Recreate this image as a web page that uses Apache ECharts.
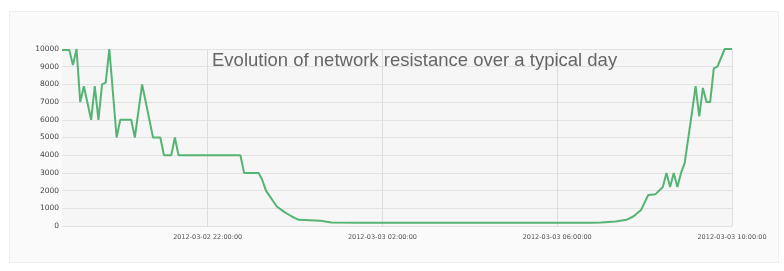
<!DOCTYPE html>
<html>
<head>
<meta charset="utf-8">
<script src="https://cdn.jsdelivr.net/npm/echarts@6/dist/echarts.min.js"></script>
<style>
  html, body { margin: 0; padding: 0; background: #fff; }
  #wrap { position: absolute; left: 9px; top: 11px; width: 768px; height: 250px;
          background: #fafafa; border: 1px solid #efefef; }
  #main { position: absolute; left: 0; top: 0; width: 784px; height: 271px; }
</style>
</head>
<body>
<div id="wrap"></div>
<div id="main"></div>
<script>
// time labels shown on the x axis
var labelTimes = ['2012-03-02 22:00:00', '2012-03-03 02:00:00', '2012-03-03 06:00:00', '2012-03-03 10:00:00'];
// y axis ticks
var yTicks = [0, 1000, 2000, 3000, 4000, 5000, 6000, 7000, 8000, 9000, 10000];

// vertices of the resistance curve
var pointTimes = [
  '18:40', '18:50', '18:55', '19:00', '19:05', '19:10', '19:20', '19:25', '19:30', '19:35',
  '19:40', '19:45', '19:55', '20:00', '20:15', '20:20', '20:30', '20:45', '20:55', '21:00',
  '21:10', '21:15', '21:20', '22:45', '22:50', '23:10', '23:15', '23:20', '23:25', '23:30',
  '23:35', '23:45', '23:55', '00:00', '00:05', '00:35', '00:50', '01:30', '06:45', '07:00',
  '07:20', '07:35', '07:45', '07:55', '08:05', '08:15', '08:25', '08:30', '08:35', '08:40',
  '08:45', '08:50', '08:55', '09:05', '09:10', '09:15', '09:20', '09:25', '09:30', '09:35',
  '09:40', '09:50', '10:00'
];
var pointValues = [
  9950, 9950, 9100, 10000, 7000, 7900, 6000, 7900, 6000, 8000,
  8100, 10000, 5000, 6000, 6000, 5000, 8000, 5000, 5000, 4000,
  4000, 5000, 4000, 4000, 3000, 3000, 2600, 2000, 1700, 1400,
  1100, 800, 550, 450, 350, 300, 200, 180, 180, 200,
  260, 350, 550, 900, 1750, 1800, 2200, 3000, 2200, 3000,
  2200, 3000, 3550, 6400, 7900, 6200, 7800, 7000, 7000, 8900,
  9000, 10000, 10000
];

function pad(n) { return (n < 10 ? '0' : '') + n; }
function fullName(hm) {
  var h = parseInt(hm.slice(0, 2), 10);
  var day = (h >= 12) ? '2012-03-02' : '2012-03-03';
  return day + ' ' + hm + ':00';
}

// 5-minute categories from 18:40 to 10:00 next day
var categories = [];
for (var m = 18 * 60 + 40; m <= 34 * 60; m += 5) {
  var hh = Math.floor(m / 60) % 24, mm = m % 60;
  categories.push(fullName(pad(hh) + ':' + pad(mm)));
}

var seriesData = pointTimes.map(function (t, i) {
  return [fullName(t), pointValues[i]];
});

function showAt(idx, val) { return labelTimes.indexOf(val) >= 0; }

var chart = echarts.init(document.getElementById('main'));
chart.setOption({
  animation: false,
  title: {
    text: 'Evolution of network resistance over a typical day',
    left: 207, top: 46,
    textStyle: { fontFamily: 'Liberation Sans, Arial, sans-serif', fontSize: 18.5, fontWeight: 'normal', color: '#666' }
  },
  grid: { left: 62, right: 52, top: 49, bottom: 45, show: true, backgroundColor: '#f6f6f6', borderWidth: 0 },
  xAxis: {
    type: 'category',
    boundaryGap: false,
    data: categories,
    axisLine: { show: false },
    axisTick: { show: false },
    axisLabel: { interval: showAt, fontSize: 6.5, color: '#555', margin: 8, fontFamily: 'DejaVu Sans' },
    splitLine: { show: true, interval: showAt, lineStyle: { color: '#dedede', width: 1 } }
  },
  yAxis: {
    type: 'value',
    min: yTicks[0], max: yTicks[yTicks.length - 1], interval: 1000,
    axisLine: { show: false },
    axisTick: { show: false },
    axisLabel: { fontSize: 7.5, color: '#444', margin: 3, fontFamily: 'DejaVu Sans', formatter: function (v) { return String(v); } },
    splitLine: { lineStyle: { color: '#e2e2e2', width: 1 } }
  },
  series: [{
    type: 'line',
    data: seriesData,
    showSymbol: false,
    symbol: 'none',
    lineStyle: { color: '#55b474', width: 2 }
  }]
});
</script>
</body>
</html>
